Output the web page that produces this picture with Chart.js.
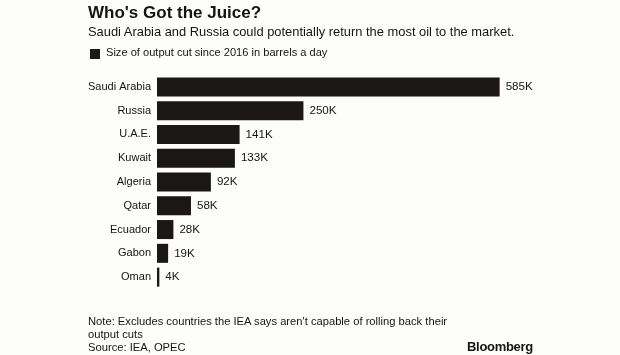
<!DOCTYPE html>
<html><head><meta charset="utf-8">
<script src="https://cdn.jsdelivr.net/npm/chart.js@4.4.0/dist/chart.umd.min.js"></script>
<style>
html,body{margin:0;padding:0;background:#fdfdfc;}
#wrap{position:relative;width:620px;height:355px;font-family:"Liberation Sans",Arial,sans-serif;color:#141414;}
canvas{position:absolute;left:0;top:0;}
.t{position:absolute;white-space:nowrap;}
</style></head><body>
<div id="wrap">
<canvas id="c" width="620" height="355"></canvas>
<div class="t" style="left:88px;top:3px;font-size:17px;font-weight:bold;">Who's Got the Juice?</div>
<div class="t" style="left:88px;top:24px;font-size:12.9px;">Saudi Arabia and Russia could potentially return the most oil to the market.</div>
<div class="t" style="left:90px;top:49px;width:10px;height:10px;background:#1a1a1a;"></div>
<div class="t" style="left:106px;top:46px;font-size:11.1px;">Size of output cut since 2016 in barrels a day</div>
<div class="t" style="left:88px;top:315px;font-size:11.2px;line-height:13px;">Note: Excludes countries the IEA says aren't capable of rolling back their<br>output cuts<br>Source: IEA, OPEC</div>
<div class="t" style="left:467px;top:339px;font-size:13px;font-weight:bold;letter-spacing:-0.3px;">Bloomberg</div>
</div>
<script>
const countries = ["Saudi Arabia","Russia","U.A.E.","Kuwait","Algeria","Qatar","Ecuador","Gabon","Oman"];
const outputCut = [585,250,141,133,92,58,28,19,4];
const valueLabels = ["585K","250K","141K","133K","92K","58K","28K","19K","4K"];

const labelPlugin = {
  id:'vals',
  afterDatasetsDraw(chart){
    const ctx = chart.ctx;
    const meta = chart.getDatasetMeta(0);
    ctx.save();
    ctx.font = '11.6px "Liberation Sans", Arial, sans-serif';
    ctx.fillStyle = '#141414';
    ctx.textBaseline = 'middle';
    meta.data.forEach((bar,i)=>{
      ctx.fillText(valueLabels[i], bar.x + 6, bar.y);
    });
    ctx.restore();
  }
};

new Chart(document.getElementById('c'), {
  type:'bar',
  data:{labels:countries, datasets:[{data:outputCut, backgroundColor:'#1a1716', barPercentage:0.8, categoryPercentage:1}]},
  options:{
    indexAxis:'y', responsive:false, animation:false,
    layout:{padding:{top:75,bottom:66,left:0,right:53}},
    plugins:{legend:{display:false}, tooltip:{enabled:false}},
    scales:{
      x:{display:false, min:0, max:700},
      y:{
        grid:{display:false, drawTicks:false, tickLength:0}, border:{display:false},
        ticks:{color:'#141414', font:{size:11, family:'"Liberation Sans", Arial, sans-serif'}, padding:6},
        afterFit(s){ s.width = 157; }
      }
    }
  },
  plugins:[labelPlugin]
});
</script>
</body></html>
